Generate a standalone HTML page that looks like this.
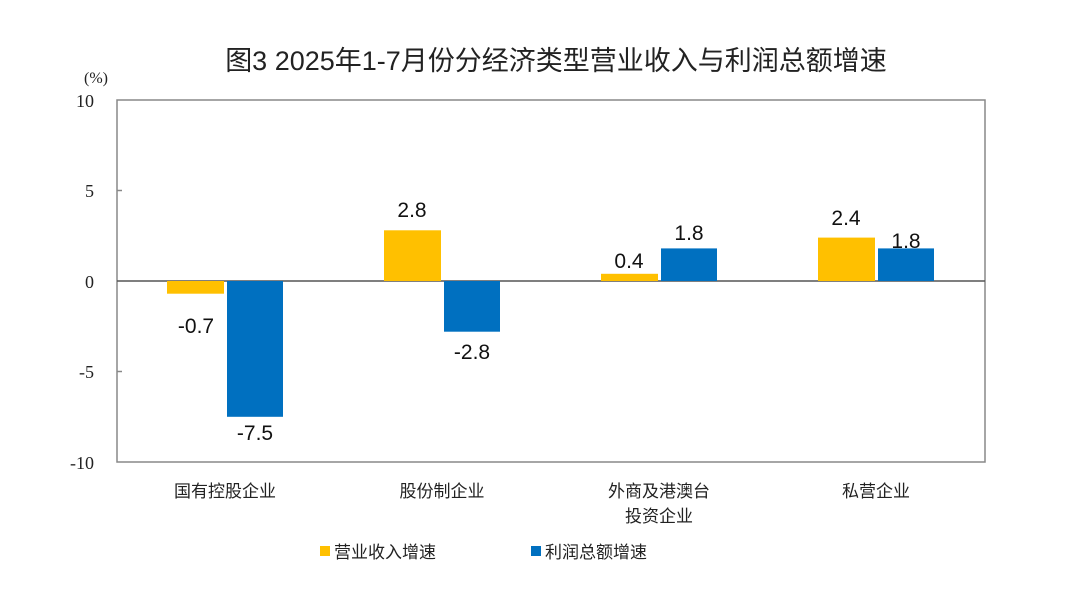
<!DOCTYPE html>
<html><head><meta charset="utf-8"><style>
body{margin:0;background:#fff;}
svg text{font-family:"Liberation Sans","Noto Sans CJK SC",sans-serif;}
</style></head><body>
<svg width="1080" height="599" viewBox="0 0 1080 599" xmlns="http://www.w3.org/2000/svg">
<rect width="1080" height="599" fill="#fff"/>
<text x="556" y="70" font-size="27" text-anchor="middle" fill="#222">图3  2025年1-7月份分经济类型营业收入与利润总额增速</text>
<text x="84" y="83" font-size="16" fill="#222" style="font-family:'Liberation Serif','Noto Serif CJK SC',serif">(%)</text>
<rect x="117" y="100" width="868" height="362" fill="none" stroke="#888" stroke-width="1.5"/>
<line x1="117" y1="281" x2="985" y2="281" stroke="#555" stroke-width="1.5"/>
<g stroke="#888" stroke-width="1.5">
<line x1="117" y1="190.5" x2="122" y2="190.5"/><line x1="117" y1="371.5" x2="122" y2="371.5"/>
</g>
<g font-size="18" text-anchor="end" fill="#222">
<text x="94" y="107" style="font-family:'Liberation Serif',serif">10</text>
<text x="94" y="197" style="font-family:'Liberation Serif',serif">5</text>
<text x="94" y="288" style="font-family:'Liberation Serif',serif">0</text>
<text x="94" y="378" style="font-family:'Liberation Serif',serif">-5</text>
<text x="94" y="469" style="font-family:'Liberation Serif',serif">-10</text>
</g>
<g fill="#FFC000">
<rect x="167" y="281" width="57" height="12.7"/>
<rect x="384" y="230.3" width="57" height="50.7"/>
<rect x="601" y="273.8" width="57" height="7.2"/>
<rect x="818" y="237.6" width="57" height="43.4"/>
</g>
<g fill="#0070C0">
<rect x="227" y="281" width="56" height="135.8"/>
<rect x="444" y="281" width="56" height="50.7"/>
<rect x="661" y="248.4" width="56" height="32.6"/>
<rect x="878" y="248.4" width="56" height="32.6"/>
</g>
<g font-size="21" text-anchor="middle" fill="#111">
<text x="196" y="333">-0.7</text>
<text x="255" y="440">-7.5</text>
<text x="412" y="217">2.8</text>
<text x="472" y="359">-2.8</text>
<text x="629" y="268">0.4</text>
<text x="689" y="240">1.8</text>
<text x="846" y="225">2.4</text>
<text x="906" y="248">1.8</text>
</g>
<g font-size="17" text-anchor="middle" fill="#222">
<text x="225" y="497">国有控股企业</text>
<text x="442" y="497">股份制企业</text>
<text x="659" y="497">外商及港澳台</text>
<text x="659" y="522">投资企业</text>
<text x="876" y="497">私营企业</text>
</g>
<rect x="320" y="546" width="10" height="10" fill="#FFC000"/>
<text x="334" y="558" font-size="17" fill="#222">营业收入增速</text>
<rect x="531" y="546" width="10" height="10" fill="#0070C0"/>
<text x="545" y="558" font-size="17" fill="#222">利润总额增速</text>
</svg>
</body></html>
